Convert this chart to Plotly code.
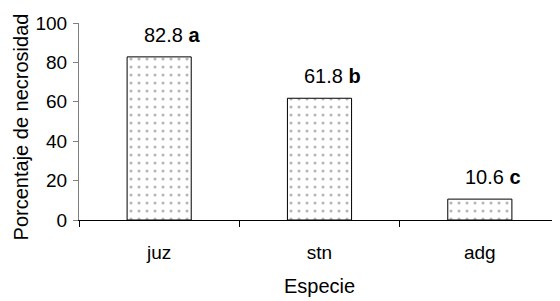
import plotly.graph_objects as go

categories = ["juz", "stn", "adg"]
values = [82.8, 61.8, 10.6]
letters = ["a", "b", "c"]
y_ticks = [0, 20, 40, 60, 80, 100]

FONT = "Liberation Sans, Arial"

fig = go.Figure()
fig.add_trace(go.Bar(
    x=categories, y=values, width=0.4,
    marker=dict(color="white", line=dict(color="black", width=1),
                pattern=dict(shape=".", fgcolor="#707070", bgcolor="white",
                             size=8, solidity=0.12, fillmode="overlay")),
    showlegend=False,
))
for c, v, l in zip(categories, values, letters):
    fig.add_annotation(x=c, y=v, text=f"{v} <b>{l}</b>", showarrow=False,
                       yanchor="bottom", yshift=9, xshift=13,
                       font=dict(family=FONT, size=20, color="black"))

# y-axis title as a rotated annotation so it can sit slightly below centre
fig.add_annotation(text="Porcentaje de necrosidad", textangle=-90, showarrow=False,
                   xref="paper", yref="paper", x=0, y=0.47,
                   xanchor="center", yanchor="middle", xshift=-58, borderpad=0,
                   font=dict(family=FONT, size=20, color="black"))

# page body has an 8px default margin, so the figure is sized/offset to compensate
fig.update_layout(
    width=552, height=293,
    margin=dict(l=71, r=0, t=15, b=81),
    plot_bgcolor="white", paper_bgcolor="white",
    font=dict(family=FONT, size=19, color="black"),
)
fig.update_xaxes(showline=True, linecolor="black", linewidth=1, automargin=False,
                 ticks="outside", ticklen=6, tickcolor="black", tickson="boundaries",
                 ticklabelstandoff=15,
                 title=dict(text="Especie", standoff=17, font=dict(size=20)),
                 showgrid=False)
fig.update_yaxes(range=[0, 100], tickvals=y_ticks, showline=True, linecolor="#808080",
                 linewidth=1, ticks="outside", ticklen=5, tickcolor="#808080",
                 ticklabelstandoff=2,
                 showgrid=False, zeroline=False, automargin=False)

fig.write_html("out.html")
